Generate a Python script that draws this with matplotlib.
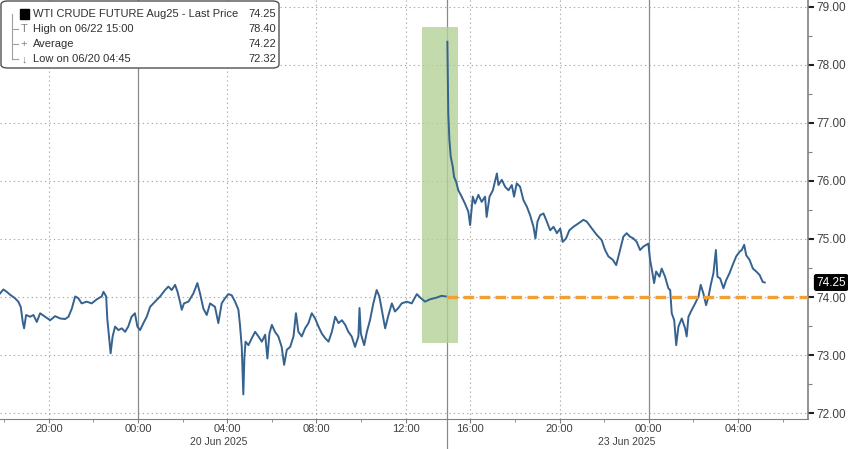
import numpy as np
import matplotlib.pyplot as plt
from matplotlib.patches import Rectangle, FancyBboxPatch
from matplotlib.lines import Line2D
from matplotlib.transforms import blended_transform_factory

plt.rcParams['font.family'] = ['Liberation Sans', 'DejaVu Sans']

# Friday session, hours from 00:00 20 Jun 2025
fri_hours = [-6.19, -6.04, -5.89, -5.74, -5.52, -5.37, -5.26, -5.17, -5.11, -5.02,
             -4.84, -4.69, -4.54, -4.39, -4.17, -3.94, -3.72, -3.49, -3.27, -3.12,
             -2.97, -2.82, -2.68, -2.53, -2.30, -2.08, -1.85, -1.63, -1.55, -1.43,
             -1.38, -1.29, -1.23, -1.14, -1.03, -0.88, -0.73, -0.58, -0.44, -0.29,
             -0.14, -0.03, 0.09, 0.24, 0.39, 0.54, 0.76, 0.99, 1.21, 1.36,
             1.51, 1.66, 1.77, 1.88, 1.96, 2.06, 2.26, 2.48, 2.66, 2.78,
             2.93, 3.08, 3.23, 3.45, 3.60, 3.75, 3.90, 4.05, 4.20, 4.35,
             4.50, 4.57, 4.65, 4.72, 4.77, 4.82, 4.95, 5.10, 5.25, 5.40,
             5.55, 5.70, 5.80, 5.89, 6.00, 6.14, 6.29, 6.44, 6.55, 6.67,
             6.82, 6.97, 7.08, 7.19, 7.34, 7.49, 7.64, 7.79, 7.94, 8.09,
             8.24, 8.39, 8.54, 8.69, 8.84, 8.99, 9.14, 9.29, 9.43, 9.58,
             9.73, 9.88, 9.93, 9.99, 10.14, 10.26, 10.40, 10.55, 10.70, 10.82,
             10.93, 11.08, 11.23, 11.38, 11.52, 11.67, 11.82, 12.05, 12.27, 12.50,
             12.68, 12.87, 13.09, 13.39, 13.60, 13.80]
fri_price = [74.06, 74.13, 74.09, 74.04, 73.98, 73.92, 73.83, 73.57, 73.46, 73.69,
             73.66, 73.69, 73.57, 73.72, 73.66, 73.60, 73.67, 73.63, 73.62, 73.66,
             73.80, 74.01, 73.98, 73.89, 73.92, 73.89, 73.96, 74.01, 74.09, 74.01,
             73.63, 73.26, 73.03, 73.32, 73.49, 73.43, 73.46, 73.40, 73.49, 73.66,
             73.72, 73.49, 73.43, 73.55, 73.66, 73.83, 73.92, 74.01, 74.12, 74.18,
             74.12, 74.21, 74.09, 73.92, 73.78, 73.89, 73.92, 74.06, 74.24, 74.06,
             73.80, 73.69, 73.89, 73.83, 73.55, 73.89, 73.98, 74.05, 74.03, 73.92,
             73.78, 73.52, 73.14, 72.32, 72.97, 73.23, 73.17, 73.29, 73.40, 73.32,
             73.23, 73.35, 72.94, 73.37, 73.52, 73.40, 73.32, 73.14, 72.83, 73.09,
             73.14, 73.32, 73.72, 73.40, 73.32, 73.46, 73.55, 73.72, 73.63, 73.49,
             73.37, 73.29, 73.23, 73.40, 73.66, 73.55, 73.60, 73.52, 73.40, 73.32,
             73.14, 73.32, 73.81, 73.37, 73.17, 73.40, 73.60, 73.89, 74.12, 74.01,
             73.78, 73.46, 73.69, 73.89, 73.75, 73.81, 73.89, 73.92, 73.89, 74.05,
             73.98, 73.92, 73.96, 73.99, 74.02, 74.01]

# Sunday/Monday session, hours from 00:00 23 Jun 2025
sun_hours = [-9.03, -8.99, -8.94, -8.88, -8.79, -8.73, -8.64, -8.54, -8.39, -8.24,
             -8.09, -8.01, -7.89, -7.79, -7.64, -7.49, -7.34, -7.27, -7.14, -6.99,
             -6.81, -6.74, -6.59, -6.44, -6.29, -6.14, -6.04, -5.92, -5.77, -5.62,
             -5.47, -5.32, -5.17, -5.08, -4.99, -4.87, -4.72, -4.57, -4.42, -4.27,
             -4.12, -3.97, -3.86, -3.71, -3.56, -3.38, -3.15, -2.93, -2.78, -2.55,
             -2.33, -2.11, -1.96, -1.81, -1.61, -1.46, -1.36, -1.21, -1.14, -0.99,
             -0.84, -0.69, -0.54, -0.39, -0.24, -0.02, 0.06, 0.14, 0.24, 0.33,
             0.48, 0.58, 0.73, 0.88, 0.96, 1.03, 1.14, 1.23, 1.33, 1.48,
             1.63, 1.70, 1.78, 1.93, 2.08, 2.23, 2.33, 2.45, 2.57, 2.68,
             2.78, 2.90, 3.01, 3.08, 3.20, 3.35, 3.47, 3.62, 3.76, 3.92,
             4.07, 4.17, 4.28, 4.37, 4.52, 4.67, 4.82, 4.97, 5.11, 5.20]
sun_price = [78.40, 77.17, 76.71, 76.42, 76.25, 76.07, 75.99, 75.84, 75.73, 75.61,
             75.47, 75.24, 75.73, 75.61, 75.76, 75.64, 75.73, 75.38, 75.73, 75.84,
             76.13, 75.93, 76.02, 75.90, 75.84, 75.93, 75.73, 75.96, 75.90, 75.67,
             75.56, 75.41, 75.21, 75.01, 75.30, 75.41, 75.44, 75.30, 75.15, 75.21,
             75.10, 75.18, 74.95, 75.01, 75.15, 75.21, 75.27, 75.33, 75.30, 75.18,
             75.07, 74.98, 74.81, 74.70, 74.64, 74.55, 74.70, 74.93, 75.04, 75.10,
             75.04, 75.01, 74.95, 74.81, 74.87, 74.92, 74.64, 74.47, 74.24, 74.44,
             74.35, 74.49, 74.35, 74.15, 74.12, 73.72, 73.60, 73.17, 73.49, 73.63,
             73.46, 73.32, 73.66, 73.78, 73.89, 74.01, 74.21, 74.06, 73.86, 74.01,
             74.21, 74.41, 74.81, 74.35, 74.32, 74.15, 74.29, 74.41, 74.55, 74.70,
             74.78, 74.81, 74.90, 74.72, 74.64, 74.49, 74.44, 74.38, 74.26, 74.25]

# weekend is squeezed out: 00:00 23 Jun sits 22.9 trading hours after 00:00 20 Jun
GAP = 22.9

fri_ticks = [-4, 0, 4, 8, 12]
sun_ticks = [-8, -4, 0, 4]
fri_minor = [-6, -2, 2, 6, 10]
sun_minor = [-6, -2, 2, 6]

last_price = 74.25
ref_level = 74.00
legend_rows = [("WTI CRUDE FUTURE Aug25 - Last Price", "74.25"),
               ("High on 06/22 15:00", "78.40"),
               ("Average", "74.22"),
               ("Low on 06/20 04:45", "72.32")]

W, H = 848, 449
fig = plt.figure(figsize=(W / 100, H / 100), dpi=100)
ax = fig.add_axes([0, 1 - 419 / H, 808 / W, 419 / H])

x_fri = np.array(fri_hours)
x_sun = np.array(sun_hours) + GAP
ax.set_xlim(-6.19, 30.04)
ax.set_ylim(71.897, 79.12)

# grid
grid_kw = dict(color='#a8a8a8', lw=0.8, linestyle=(0, (1.2, 2.8)), zorder=0)
for v in range(72, 80):
    ax.axhline(v, **grid_kw)
for t in [-4, 4, 8, 12]:
    ax.axvline(t, **grid_kw)
for t in [-8, -4, 4]:
    ax.axvline(t + GAP, **grid_kw)
# day lines and weekend break
ax.axvline(0, color='#8a8a8a', lw=0.9, zorder=1)
ax.axvline(GAP, color='#8a8a8a', lw=0.9, zorder=1)
brk = (fri_hours[-1] + sun_hours[0] + GAP) / 2
ax.add_line(Line2D([brk, brk], [0, -0.08], transform=blended_transform_factory(ax.transData, ax.transAxes),
                   color='#8a8a8a', lw=0.9, clip_on=False))
ax.axvline(brk, color='#8a8a8a', lw=0.9, zorder=1)

# highlighted weekend gap
ax.add_patch(Rectangle((12.74, 73.21), 14.35 - 12.74, 78.66 - 73.21,
                       facecolor='#b4d197', alpha=0.8, edgecolor='none', zorder=2))

ax.plot(x_fri, fri_price, color='#35628f', lw=1.4, zorder=3)
ax.plot(x_sun, sun_price, color='#35628f', lw=1.4, zorder=3)

ax.plot([x_sun[0], 30.04], [ref_level, ref_level], color='#f0a035', lw=2.4,
        dashes=(3.2, 1.6), zorder=4)

# axes styling
for s in ['top', 'left']:
    ax.spines[s].set_visible(False)
ax.spines['right'].set_color('#808080')
ax.spines['bottom'].set_color('#808080')
ax.spines['right'].set_linewidth(1.2)

ax.yaxis.tick_right()
ax.set_yticks(np.arange(72, 80))
ax.set_yticklabels([f"{v:.2f}" for v in range(72, 80)])
ax.set_yticks(np.arange(72.5, 79.5, 1.0), minor=True)
ax.tick_params(axis='y', which='major', length=4, width=1.5, color='#202020',
               labelsize=8.5, labelcolor='#404040', pad=2)
ax.tick_params(axis='y', which='minor', length=3, width=0.8, color='#808080')

xt = [t for t in fri_ticks] + [t + GAP for t in sun_ticks]
xl = [f"{t % 24:02d}:00" for t in fri_ticks] + [f"{t % 24:02d}:00" for t in sun_ticks]
ax.set_xticks(xt)
ax.set_xticklabels(xl)
ax.set_xticks(fri_minor + [t + GAP for t in sun_minor], minor=True)
ax.tick_params(axis='x', which='major', length=3, color='#808080', labelsize=8,
               labelcolor='#404040', pad=0.5)
ax.tick_params(axis='x', which='minor', length=2, color='#808080')

trans = blended_transform_factory(ax.transData, ax.transAxes)
ax.text(3.63, -0.055, "20 Jun 2025", transform=trans, ha='center', va='center',
        fontsize=7.5, color='#404040')
ax.text(GAP - 1.0, -0.055, "23 Jun 2025", transform=trans, ha='center', va='center',
        fontsize=7.5, color='#404040')

# last price tag
ax.annotate(f"{last_price:.2f}", xy=(1.0, last_price), xycoords=('axes fraction', 'data'),
            xytext=(6, 0), textcoords='offset points', ha='left', va='center',
            fontsize=8.5, color='white',
            bbox=dict(boxstyle='round,pad=0.15', fc='black', ec='black'))


def px(x, y):
    return x / W, 1 - y / H


# legend box
lx0, ly0 = px(1, 68)
lx1, ly1 = px(279, 1)
fig.add_artist(FancyBboxPatch((lx0, ly0), lx1 - lx0, ly1 - ly0, transform=fig.transFigure,
                              boxstyle='round,pad=0,rounding_size=0.008',
                              fc='white', ec='#505050', lw=1.0, zorder=10))
row_y = [14, 29, 44, 59]
for (label, val), yy in zip(legend_rows, row_y):
    fig.text(*px(33, yy), label, ha='left', va='center', fontsize=8, color='#303030', zorder=11)
    fig.text(*px(276, yy), val, ha='right', va='center', fontsize=8, color='#303030', zorder=11)
# tree connector and icons
fig.add_artist(Line2D([12 / W, 12 / W], [1 - 14 / H, 1 - 59 / H], transform=fig.transFigure,
                      color='#a0a0a0', lw=0.8, zorder=11))
for yy in row_y[1:]:
    fig.add_artist(Line2D([12 / W, 18 / W], [1 - yy / H, 1 - yy / H], transform=fig.transFigure,
                          color='#a0a0a0', lw=0.8, zorder=11))
fig.add_artist(Rectangle(px(20, 19), 9 / W, 10 / H, transform=fig.transFigure,
                         fc='black', ec='black', zorder=11))
fig.text(*px(24, 29), "T", ha='center', va='center', fontsize=8, color='#808080', zorder=11)
fig.text(*px(24, 44), "+", ha='center', va='center', fontsize=8, color='#808080', zorder=11)
fig.text(*px(24, 59), "\u2193", ha='center', va='center', fontsize=8, color='#808080', zorder=11)

fig.savefig("out.png", dpi=100)
